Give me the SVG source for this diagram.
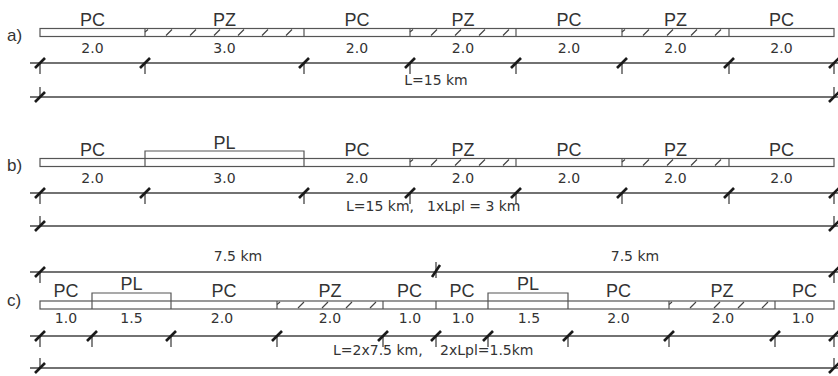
<svg xmlns="http://www.w3.org/2000/svg" width="838" height="376" viewBox="0 0 838 376">
<style>
.bar{fill:none;stroke:#555;stroke-width:1.2}
.dim{fill:none;stroke:#444;stroke-width:1.3}
.tk{stroke:#1a1a1a;stroke-width:2.6}
.ext{stroke:#444;stroke-width:1.3}
.hatch{fill:none;stroke:#444;stroke-width:1.2}
.seg{font-family:"Liberation Sans",Arial,sans-serif;font-size:18px;fill:#333;text-anchor:middle}
.num{font-family:"DejaVu Sans",Verdana,sans-serif;font-size:14px;fill:#333;text-anchor:middle}
.dl{font-family:"DejaVu Sans",Verdana,sans-serif;font-size:14px;fill:#333}
.lbl{font-family:"Liberation Sans",Arial,sans-serif;font-size:17px;fill:#333}
</style>
<defs>
<g id="tkd"><path class="ext" d="M0,0V11"/><path class="tk" d="M-5,5L5,-5"/></g>
<g id="tku"><path class="ext" d="M0,-10V0"/><path class="tk" d="M-5,5L5,-5"/></g>
<g id="tkb"><path class="ext" d="M0,-10V6"/><path class="tk" d="M-4,5L4,-7"/></g>
</defs>

<g id="row-a">
<text class="lbl" x="7" y="41">a)</text>
<g id="a-bar">
<rect class="bar" x="40" y="28.5" width="794" height="8"/>
<path class="bar" d="M145,28.5V36.5M304,28.5V36.5M410,28.5V36.5M516,28.5V36.5M622,28.5V36.5M729,28.5V36.5"/>
<path class="hatch" d="M145,32L148,29.5M166,35.5L172,29.5M190,35.5L196,29.5M214,35.5L220,29.5M238,35.5L244,29.5M262,35.5L268,29.5M286,35.5L292,29.5
M410,32L413,29.5M431,35.5L437,29.5M455,35.5L461,29.5M479,35.5L485,29.5M503,35.5L509,29.5
M622,32L625,29.5M643,35.5L649,29.5M667,35.5L673,29.5M691,35.5L697,29.5M715,35.5L721,29.5"/>
</g>
<g id="a-labels">
<text class="seg" x="92.5" y="25.5">PC</text>
<text class="seg" x="224.5" y="25.5">PZ</text>
<text class="seg" x="357" y="25.5">PC</text>
<text class="seg" x="463" y="25.5">PZ</text>
<text class="seg" x="569" y="25.5">PC</text>
<text class="seg" x="675.5" y="25.5">PZ</text>
<text class="seg" x="781.5" y="25.5">PC</text>
<text class="num" x="92.5" y="53">2.0</text>
<text class="num" x="224.5" y="53">3.0</text>
<text class="num" x="357" y="53">2.0</text>
<text class="num" x="463" y="53">2.0</text>
<text class="num" x="569" y="53">2.0</text>
<text class="num" x="675.5" y="53">2.0</text>
<text class="num" x="781.5" y="53">2.0</text>
</g>
<g id="a-dims">
<path class="dim" d="M30,63H838M30,97H838"/>
<use href="#tkd" x="40" y="63"/><use href="#tkd" x="145" y="63"/><use href="#tkd" x="304" y="63"/><use href="#tkd" x="410" y="63"/>
<use href="#tkd" x="516" y="63"/><use href="#tkd" x="622" y="63"/><use href="#tkd" x="729" y="63"/><use href="#tkd" x="834" y="63"/>
<use href="#tku" x="40" y="97"/><use href="#tku" x="834" y="97"/>
<text class="dl" x="436" y="85" text-anchor="middle">L=15 km</text>
</g>
</g>

<g id="row-b">
<text class="lbl" x="7" y="171">b)</text>
<g id="b-bar">
<rect class="bar" x="40" y="158.5" width="794" height="8"/>
<path class="bar" d="M145,166.5V151H304V166.5M410,158.5V166.5M516,158.5V166.5M622,158.5V166.5M729,158.5V166.5"/>
<path class="hatch" d="M410,162L413,159.5M431,165.5L437,159.5M455,165.5L461,159.5M479,165.5L485,159.5M503,165.5L509,159.5
M622,162L625,159.5M643,165.5L649,159.5M667,165.5L673,159.5M691,165.5L697,159.5M715,165.5L721,159.5"/>
</g>
<g id="b-labels">
<text class="seg" x="92.5" y="155.5">PC</text>
<text class="seg" x="224.5" y="149">PL</text>
<text class="seg" x="357" y="155.5">PC</text>
<text class="seg" x="463" y="155.5">PZ</text>
<text class="seg" x="569" y="155.5">PC</text>
<text class="seg" x="675.5" y="155.5">PZ</text>
<text class="seg" x="781.5" y="155.5">PC</text>
<text class="num" x="92.5" y="183">2.0</text>
<text class="num" x="224.5" y="183">3.0</text>
<text class="num" x="357" y="183">2.0</text>
<text class="num" x="463" y="183">2.0</text>
<text class="num" x="569" y="183">2.0</text>
<text class="num" x="675.5" y="183">2.0</text>
<text class="num" x="781.5" y="183">2.0</text>
</g>
<g id="b-dims">
<path class="dim" d="M30,193H838M30,226H838"/>
<use href="#tkd" x="40" y="193"/><use href="#tkd" x="145" y="193"/><use href="#tkd" x="304" y="193"/><use href="#tkd" x="410" y="193"/>
<use href="#tkd" x="516" y="193"/><use href="#tkd" x="622" y="193"/><use href="#tkd" x="729" y="193"/><use href="#tkd" x="834" y="193"/>
<use href="#tku" x="40" y="226"/><use href="#tku" x="834" y="226"/>
<text class="dl" y="211"><tspan x="346">L=15 km, </tspan><tspan x="427">1xLpl = 3 km</tspan></text>
</g>
</g>

<g id="row-c">
<text class="lbl" x="7" y="306">c)</text>
<g id="c-top">
<path class="dim" d="M30,272H838"/>
<use href="#tkd" x="40" y="272"/><use href="#tkb" x="436" y="272"/><use href="#tkd" x="834" y="272"/>
<text class="num" x="238" y="261">7.5 km</text>
<text class="num" x="635" y="261">7.5 km</text>
</g>
<g id="c-bar">
<rect class="bar" x="40" y="301" width="794" height="8"/>
<path class="bar" d="M92,309V293H171V309M277,301V309M383,301V309M436,301V309M488,309V293H568V309M669,301V309M775,301V309"/>
<path class="hatch" d="M277,304.5L280,302M298,308L304,302M322,308L328,302M346,308L352,302M370,308L376,302
M669,304.5L672,302M690,308L696,302M714,308L720,302M738,308L744,302M762,308L768,302"/>
</g>
<g id="c-labels">
<text class="seg" x="66" y="297">PC</text>
<text class="seg" x="131.5" y="290">PL</text>
<text class="seg" x="224" y="297">PC</text>
<text class="seg" x="330" y="297">PZ</text>
<text class="seg" x="409.5" y="297">PC</text>
<text class="seg" x="462" y="297">PC</text>
<text class="seg" x="528" y="290">PL</text>
<text class="seg" x="618.5" y="297">PC</text>
<text class="seg" x="722" y="297">PZ</text>
<text class="seg" x="804.5" y="297">PC</text>
<text class="num" x="66" y="323">1.0</text>
<text class="num" x="131.5" y="323">1.5</text>
<text class="num" x="222" y="323">2.0</text>
<text class="num" x="330" y="323">2.0</text>
<text class="num" x="410" y="323">1.0</text>
<text class="num" x="463" y="323">1.0</text>
<text class="num" x="529" y="323">1.5</text>
<text class="num" x="618.5" y="323">2.0</text>
<text class="num" x="723" y="323">2.0</text>
<text class="num" x="803" y="323">1.0</text>
</g>
<g id="c-dims">
<path class="dim" d="M30,336H838M30,368H838"/>
<use href="#tkd" x="40" y="336"/><use href="#tkd" x="92" y="336"/><use href="#tkd" x="171" y="336"/><use href="#tkd" x="277" y="336"/>
<use href="#tkd" x="383" y="336"/><use href="#tkd" x="436" y="336"/><use href="#tkd" x="488" y="336"/><use href="#tkd" x="568" y="336"/>
<use href="#tkd" x="669" y="336"/><use href="#tkd" x="775" y="336"/><use href="#tkd" x="834" y="336"/>
<use href="#tku" x="40" y="368"/><use href="#tku" x="834" y="368"/>
<text class="dl" y="355"><tspan x="333">L=2x7.5 km, </tspan><tspan x="440">2xLpl=1.5km</tspan></text>
</g>
</g>
</svg>
